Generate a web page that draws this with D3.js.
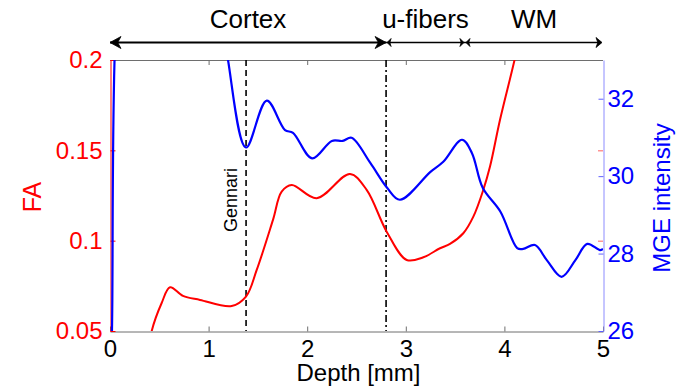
<!DOCTYPE html>
<html>
<head>
<meta charset="utf-8">
<script src="https://cdn.jsdelivr.net/npm/d3@7"></script>
<style>
  body { margin: 0; background: #fff; }
  svg text { font-family: "Liberation Sans", Arial, sans-serif; }
</style>
</head>
<body>
<div id="chart"></div>
<script>
// FA profile (red, left axis)
const faDepth = [0.38, 0.423, 0.524, 0.609, 0.74, 0.913, 1.234, 1.379, 1.488, 1.653, 1.741, 1.843, 2.096, 2.434, 2.603, 2.806, 3.009, 3.178, 3.347, 3.448, 3.583, 3.685, 3.786, 3.854, 3.955, 4.107, 4.2]
const faValue = [0.035, 0.05, 0.0655, 0.0742, 0.0694, 0.0672, 0.0638, 0.069, 0.0838, 0.1115, 0.1271, 0.1308, 0.1235, 0.1369, 0.1281, 0.105, 0.0893, 0.0908, 0.0958, 0.0982, 0.1041, 0.1133, 0.1281, 0.141, 0.1668, 0.201, 0.225]

// MGE intensity profile (blue, right axis)
const mgeDepth = [0.0, 0.02, 0.06, 0.2, 1.0, 1.12, 1.197, 1.379, 1.59, 1.775, 1.856, 2.05, 2.25, 2.36, 2.45, 2.64, 2.81, 2.94, 3.25, 3.38, 3.57, 3.67, 3.78, 3.96, 4.13, 4.19, 4.31, 4.43, 4.58, 4.72, 4.84, 4.97, 5.0]
const mgeValue = [24, 26, 34, 38, 38, 34.5, 33.0, 30.74, 31.95, 31.19, 31.12, 30.46, 30.91, 30.91, 30.99, 30.34, 29.7, 29.39, 30.11, 30.37, 30.94, 30.6, 29.7, 29.08, 28.14, 28.12, 28.22, 27.83, 27.4, 27.83, 28.25, 28.09, 28.12]

const xTicks = [0, 1, 2, 3, 4, 5]
const faTicks = [0.05, 0.1, 0.15, 0.2]
const mgeTicks = [26, 28, 30, 32]

// layers across the top
const regionNames = ['Cortex', 'u-fibers', 'WM']
const regionFrom = [0, 2.8, 3.6]
const regionTo = [2.8, 3.6, 5]

const gennariDepth = 1.38
const boundaryDepth = 2.8

const width = 691, height = 390
const plot = { left: 110, right: 603, top: 60, bottom: 331 }

const x = d3.scaleLinear().domain([0, 5]).range([plot.left, plot.right])
const yFA = d3.scaleLinear().domain([0.05, 0.2]).range([plot.bottom, plot.top])
const yMGE = d3.scaleLinear().domain([26, 33]).range([plot.bottom, plot.top])

const svg = d3.select('#chart').append('svg')
    .attr('width', width)
    .attr('height', height)

svg.append('defs').append('clipPath')
    .attr('id', 'plotClip')
    .append('rect')
    .attr('x', plot.left)
    .attr('y', plot.top)
    .attr('width', plot.right - plot.left)
    .attr('height', plot.bottom - plot.top)

// box: top line
svg.append('line')
    .attr('x1', plot.left).attr('x2', plot.right)
    .attr('y1', plot.top + 0.5).attr('y2', plot.top + 0.5)
    .style('stroke', '#6e6e6e').style('stroke-width', 1)

// bottom axis
const xAxis = svg.append('g')
    .attr('transform', `translate(0, ${plot.bottom + 0.5})`)
    .call(d3.axisBottom(x).tickValues(xTicks).tickSizeInner(-5).tickSizeOuter(0).tickPadding(8).tickFormat(d3.format('d')))
xAxis.select('.domain').style('stroke', '#6e6e6e')
xAxis.selectAll('.tick line').style('stroke', '#6e6e6e')
xAxis.selectAll('text').style('font-size', '24px').style('fill', '#000')

// top ticks
svg.append('g').selectAll('line')
    .data(xTicks.slice(1, -1))
    .enter()
    .append('line')
    .attr('x1', d => x(d) + 0.5).attr('x2', d => x(d) + 0.5)
    .attr('y1', plot.top).attr('y2', plot.top + 5)
    .style('stroke', '#6e6e6e')

// left axis (FA)
const leftAxis = svg.append('g')
    .attr('transform', `translate(${plot.left + 0.5}, 0)`)
    .call(d3.axisLeft(yFA).tickValues(faTicks).tickSizeInner(-5).tickSizeOuter(0).tickPadding(8).tickFormat(d => d3.format('')(d)))
leftAxis.select('.domain').style('stroke', '#ff0000')
leftAxis.selectAll('.tick line').style('stroke', '#ff0000')
leftAxis.selectAll('text').style('font-size', '24px').style('fill', '#ff0000')

// right axis (MGE)
const rightAxis = svg.append('g')
    .attr('transform', `translate(${plot.right + 0.5}, 0)`)
    .call(d3.axisRight(yMGE).tickValues(mgeTicks).tickSizeInner(-5).tickSizeOuter(0).tickPadding(4).tickFormat(d3.format('d')))
rightAxis.select('.domain').style('stroke', '#8c8cff')
rightAxis.selectAll('.tick line').style('stroke', '#6060ff')
rightAxis.selectAll('text').style('font-size', '24px').style('fill', '#0000ff')

// FA ticks mirrored on the right
svg.append('g').selectAll('line')
    .data(faTicks.slice(1, -1))
    .enter()
    .append('line')
    .attr('x1', plot.right - 5).attr('x2', plot.right)
    .attr('y1', d => yFA(d) + 0.5).attr('y2', d => yFA(d) + 0.5)
    .style('stroke', '#ff6060')

// reference lines
svg.append('line')
    .attr('x1', x(gennariDepth)).attr('x2', x(gennariDepth))
    .attr('y1', plot.top).attr('y2', plot.bottom)
    .style('stroke', '#000').style('stroke-width', 1.6)
    .style('stroke-dasharray', '6,4')

svg.append('line')
    .attr('x1', x(boundaryDepth)).attr('x2', x(boundaryDepth))
    .attr('y1', plot.top).attr('y2', plot.bottom)
    .style('stroke', '#000').style('stroke-width', 1.6)
    .style('stroke-dasharray', '7,3,2,3')

svg.append('text')
    .attr('transform', `translate(${x(gennariDepth) - 9}, 200) rotate(-90)`)
    .attr('text-anchor', 'middle')
    .style('font-size', '18px')
    .text('Gennari')

// data curves
const faLine = d3.line()
    .x((d, i) => x(faDepth[i]))
    .y(d => yFA(d))
    .curve(d3.curveCatmullRom)

const mgeLine = d3.line()
    .x((d, i) => x(mgeDepth[i]))
    .y(d => yMGE(d))
    .curve(d3.curveCatmullRom)

const curves = svg.append('g').attr('clip-path', 'url(#plotClip)')

curves.append('path')
    .datum(faValue)
    .attr('d', faLine)
    .style('fill', 'none')
    .style('stroke', '#ff0000')
    .style('stroke-width', 2)

curves.append('path')
    .datum(mgeValue)
    .attr('d', mgeLine)
    .style('fill', 'none')
    .style('stroke', '#0000ff')
    .style('stroke-width', 2.2)

// axis titles
svg.append('text')
    .attr('transform', `translate(41, 197) rotate(-90)`)
    .attr('text-anchor', 'middle')
    .style('font-size', '25px')
    .style('fill', '#ff0000')
    .text('FA')

svg.append('text')
    .attr('transform', `translate(670, 198) rotate(-90)`)
    .attr('text-anchor', 'middle')
    .style('font-size', '24px')
    .style('fill', '#0000ff')
    .text('MGE intensity')

svg.append('text')
    .attr('x', (plot.left + plot.right) / 2 + 2)
    .attr('y', 381)
    .attr('text-anchor', 'middle')
    .style('font-size', '24px')
    .text('Depth [mm]')

// region arrows on top
const arrowY = 42.5

svg.append('line')
    .attr('x1', x(regionFrom[0])).attr('x2', x(regionTo[0]))
    .attr('y1', arrowY).attr('y2', arrowY)
    .style('stroke', '#000').style('stroke-width', 2.2)

svg.append('line')
    .attr('x1', x(regionFrom[1])).attr('x2', x(regionTo[2]) - 2)
    .attr('y1', arrowY).attr('y2', arrowY)
    .style('stroke', '#000').style('stroke-width', 1.5)

function head(px, dir, len, half) {
    return `M${px},${arrowY} L${px - dir * len},${arrowY - half} L${px - dir * len * 0.7},${arrowY} L${px - dir * len},${arrowY + half} Z`
}

const heads = [
    head(x(regionFrom[0]), -1, 11, 6),
    head(x(regionTo[0]), 1, 11, 6),
    head(x(regionFrom[1]) + 1, -1, 4, 4),
    head(x(regionTo[1]) - 1, 1, 4, 4),
    head(x(regionFrom[2]) + 1, -1, 4, 4),
    head(x(regionTo[2]) - 1, 1, 6, 5)
]

svg.append('g').selectAll('path')
    .data(heads)
    .enter()
    .append('path')
    .attr('d', d => d)
    .style('fill', '#000')
    .style('stroke', '#000')
    .style('stroke-width', 0.8)

svg.append('g').selectAll('text')
    .data(regionNames)
    .enter()
    .append('text')
    .attr('x', (d, i) => x((regionFrom[i] + regionTo[i]) / 2))
    .attr('y', 28)
    .attr('text-anchor', 'middle')
    .style('font-size', '26px')
    .text(d => d)
</script>
</body>
</html>
